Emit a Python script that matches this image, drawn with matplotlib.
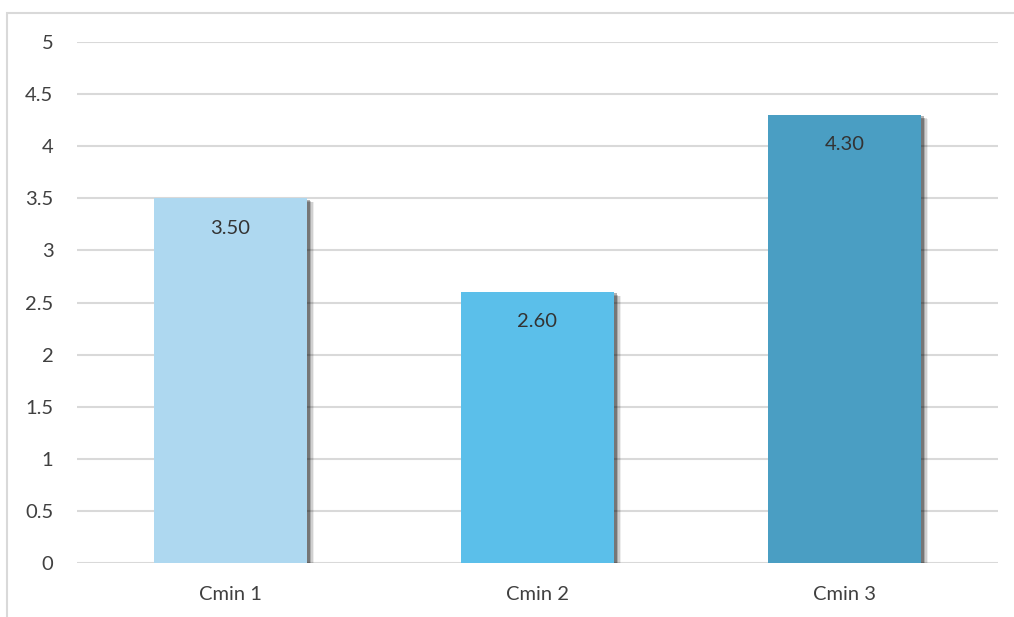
import matplotlib
matplotlib.use("Agg")
import matplotlib.pyplot as plt
import matplotlib.patheffects as pe
from matplotlib.patches import Rectangle

plt.rcParams['font.family'] = ['Lato', 'DejaVu Sans']

categories = ["Cmin 1", "Cmin 2", "Cmin 3"]
values = [3.50, 2.60, 4.30]
colors = ["#AED8F0", "#5BBFEA", "#4A9EC3"]
yticks = [0, 0.5, 1, 1.5, 2, 2.5, 3, 3.5, 4, 4.5, 5]

W, H = 1014, 617
fig = plt.figure(figsize=(W / 100, H / 100), dpi=100)
ax = fig.add_axes([77 / W, 54 / H, 921 / W, 521 / H])

# outer chart border (only top and left visible)
fig.patches.append(Rectangle((7 / W, -0.1), 1.2, (H - 13) / H + 0.1,
                             transform=fig.transFigure, fill=False,
                             edgecolor="#D9D9D9", linewidth=1.5))

# soft shadow, a few stacked layers
shadow = [
    pe.SimplePatchShadow(offset=(5, -3), shadow_rgbFace="black", alpha=0.07),
    pe.SimplePatchShadow(offset=(4, -2.5), shadow_rgbFace="black", alpha=0.12),
    pe.SimplePatchShadow(offset=(3, -2), shadow_rgbFace="black", alpha=0.18),
    pe.SimplePatchShadow(offset=(2, -1), shadow_rgbFace="black", alpha=0.3),
    pe.Normal(),
]

x = range(len(categories))
bars = ax.bar(x, values, width=0.5, color=colors, zorder=3)
for b in bars:
    b.set_path_effects(shadow)

for xi, v in zip(x, values):
    ax.annotate(f"{v:.2f}", (xi, v), xytext=(0, -21.5), textcoords="offset points",
                ha="center", va="center", fontsize=14.5, color="#333333", zorder=4)

ax.set_xlim(-0.5, 2.5)
ax.set_ylim(0, 5)
ax.set_yticks(yticks)
ax.set_yticklabels([f"{t:g}" for t in yticks])
ax.set_xticks(list(x))
ax.set_xticklabels(categories)
ax.tick_params(axis="y", length=0, pad=17, labelsize=14.5, labelcolor="#404040")
ax.tick_params(axis="x", length=0, pad=16.5, labelsize=14.5, labelcolor="#404040")
ax.grid(axis="y", color="#D9D9D9", linewidth=1.5, zorder=0)
ax.set_axisbelow(True)
for s in ax.spines.values():
    s.set_visible(False)

fig.savefig("out.png", dpi=100)
